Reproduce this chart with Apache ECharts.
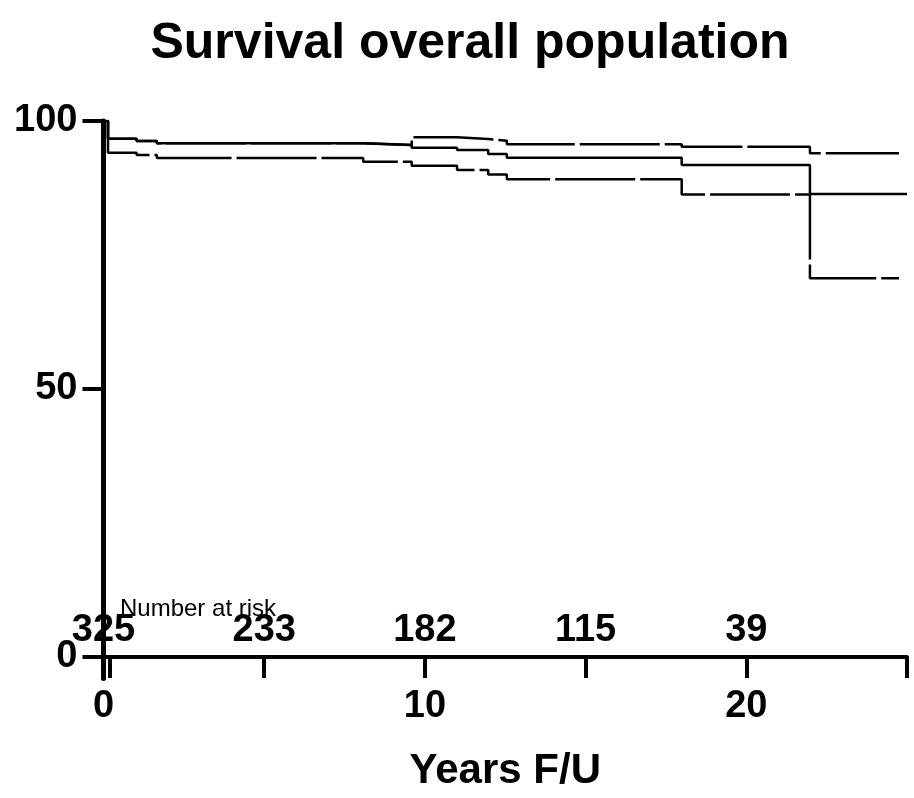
<!DOCTYPE html>
<html>
<head>
<meta charset="utf-8">
<script src="https://cdn.jsdelivr.net/npm/echarts@6/dist/echarts.min.js"></script>
<style>html,body{margin:0;padding:0;background:#fff}#c{width:914px;height:798px}</style>
</head>
<body>
<div id="c"></div>
<script>
// ---- data ----
const titleText = 'Survival overall population';
const xName = 'Years F/U';
const riskTitle = 'Number at risk';
const riskTimes = [0, 5, 10, 15, 20];
const riskNumbers = [325, 233, 182, 115, 39];
const xLabelValues = [0, 10, 20];
const xTickValues = [0, 0.2, 5, 10, 15, 20, 25];
const yLabelValues = [0, 50, 100];

const survTimes = [0, 0.14, 1.03, 1.66, 8.08, 9.59, 11.0, 11.97, 12.55, 17.99, 21.98, 25];
const survival  = [100, 96.7, 96.27, 95.84, 95.52, 95.02, 94.59, 93.84, 93.15, 91.79, 86.38, 86.38];
const ciTimes   = [0, 0.14, 1.03, 1.66, 8.08, 9.59, 11.0, 11.97, 12.55, 17.99, 21.98, 24.75];
const upperCI   = [100, 96.7, 96.27, 95.84, 95.52, 96.96, 96.64, 96.32, 95.65, 95.21, 93.97, 93.97];
const lowerCI   = [100, 94.09, 93.66, 93.1, 92.41, 91.66, 90.86, 90.0, 89.12, 86.3, 70.65, 70.65];

const pairs = (t, v) => t.map((x, i) => [x, v[i]]);
const FONT = '"Liberation Sans", Arial, Helvetica, sans-serif';

const chart = echarts.init(document.getElementById('c'), null, {renderer: 'canvas'});
chart.setOption({
  backgroundColor: '#fff',
  animation: false,
  title: {
    text: titleText,
    left: 465, top: 14, textAlign: 'center',
    textStyle: {fontFamily: FONT, fontWeight: 'bold', fontSize: 50, color: '#000'}
  },
  graphic: [{
    type: 'text', left: 120, top: 597,
    style: {text: riskTitle, fontFamily: FONT, fontSize: 24, fill: '#000'}
  }],
  grid: {left: 103.5, right: 7, top: 121, bottom: 119.6, containLabel: false, outerBoundsMode: 'none'},
  xAxis: [{
    type: 'value', min: 0, max: 25,
    name: xName, nameLocation: 'middle', nameGap: 72,
    nameTextStyle: {fontFamily: FONT, fontWeight: 'bold', fontSize: 42, color: '#000'},
    axisLine: {onZero: true, lineStyle: {color: '#000', width: 4}},
    axisTick: {show: true, length: 21, customValues: xTickValues, lineStyle: {color: '#000', width: 4}},
    axisLabel: {customValues: xLabelValues, margin: 9, fontFamily: FONT, fontWeight: 'bold', fontSize: 38, color: '#000'},
    splitLine: {show: false}
  }, {
    type: 'value', min: 0, max: 25, position: 'bottom',
    axisLine: {show: false}, axisTick: {show: false},
    axisLabel: {
      inside: true, margin: 29, customValues: riskTimes,
      formatter: v => { const i = riskTimes.indexOf(v); return i >= 0 ? String(riskNumbers[i]) : ''; },
      fontFamily: FONT, fontWeight: 'bold', fontSize: 38, color: '#000'
    },
    splitLine: {show: false}
  }],
  yAxis: {
    type: 'value', min: -4, max: 100,
    axisLine: {show: true, onZero: false, lineStyle: {color: '#000', width: 5}},
    axisTick: {show: true, length: 21, customValues: yLabelValues, lineStyle: {color: '#000', width: 4}},
    axisLabel: {customValues: yLabelValues, margin: 26, fontFamily: FONT, fontWeight: 'bold', fontSize: 38, color: '#000'},
    splitLine: {show: false}
  },
  series: [
    {type: 'line', name: 'upper', step: 'end', showSymbol: false, data: pairs(ciTimes, upperCI),
     lineStyle: {color: '#000', width: 2.5, type: [80, 5]}, z: 2},
    {type: 'line', name: 'lower', step: 'end', showSymbol: false, data: pairs(ciTimes, lowerCI),
     lineStyle: {color: '#000', width: 2.5, type: [80, 5]}, z: 2},
    {type: 'line', name: 'survival', step: 'end', showSymbol: false, data: pairs(survTimes, survival),
     lineStyle: {color: '#000', width: 2.5}, z: 3}
  ]
});
</script>
</body>
</html>
